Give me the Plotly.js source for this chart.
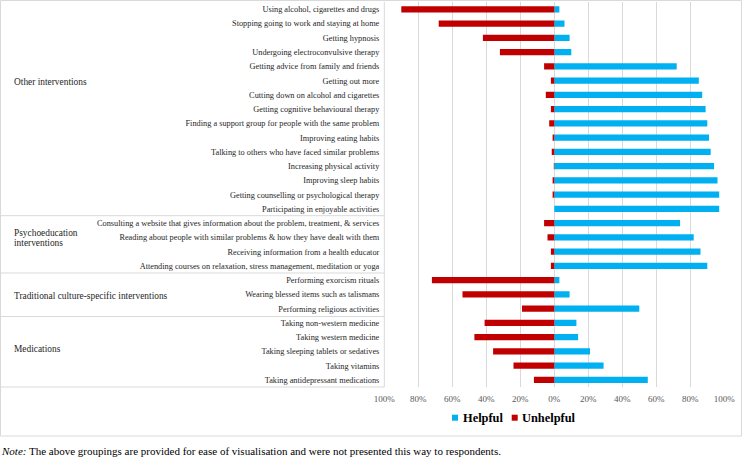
<!DOCTYPE html>
<html>
<head>
<meta charset="utf-8">
<script src="https://cdn.plot.ly/plotly-3.0.1.min.js"></script>
<style>
  html, body { margin: 0; padding: 0; background: #ffffff; }
  #chart { width: 742px; height: 459px; }
</style>
</head>
<body>
<div id="chart"></div>
<script>
// Interventions, listed top to bottom
const interventions = [
  "Using alcohol, cigarettes and drugs",
  "Stopping going to work and staying at home",
  "Getting hypnosis",
  "Undergoing electroconvulsive therapy",
  "Getting advice from family and friends",
  "Getting out more",
  "Cutting down on alcohol and cigarettes",
  "Getting cognitive behavioural therapy",
  "Finding a support group for people with the same problem",
  "Improving eating habits",
  "Talking to others who have faced similar problems",
  "Increasing physical activity",
  "Improving sleep habits",
  "Getting counselling or psychological therapy",
  "Participating in enjoyable activities",
  "Consulting a website that gives information about the problem, treatment, & services",
  "Reading about people with similar problems & how they have dealt with them",
  "Receiving information from a health educator",
  "Attending courses on relaxation, stress management, meditation or yoga",
  "Performing exorcism rituals",
  "Wearing blessed items such as talismans",
  "Performing religious activities",
  "Taking non-western medicine",
  "Taking western medicine",
  "Taking sleeping tablets or sedatives",
  "Taking vitamins",
  "Taking antidepressant medications"
];

// Share of respondents rating each intervention helpful (%)
const helpful = [3, 6, 9, 10, 72, 85, 87, 89, 90, 91, 92, 94, 96, 97, 97,
                 74, 82, 86, 90, 3, 9, 50, 13, 14, 21, 29, 55];

// Share of respondents rating each intervention unhelpful (%)
const unhelpful = [90, 68, 42, 32, 6, 2, 5, 2, 3, 1, 1.5, 0.3, 1, 1, 0,
                   6, 4, 2, 2, 72, 54, 19, 41, 47, 36, 24, 12];

// Group headings for the label column (one entry per line)
const groupNames = [
  ["Other interventions"],
  ["Psychoeducation", "interventions"],
  ["Traditional culture-specific interventions"],
  ["Medications"]
];

// Symmetric percentage axis
const tickValues = [-1, -0.8, -0.6, -0.4, -0.2, 0, 0.2, 0.4, 0.6, 0.8, 1];
const tickLabels = ["100%", "80%", "60%", "40%", "20%", "0%", "20%", "40%", "60%", "80%", "100%"];

const seriesNames = ["Helpful", "Unhelpful"];
const seriesColors = ["#00b0f0", "#c00000"];

const W = 742, H = 459;
const px = p => p / W;          // horizontal pixel -> paper
const py = p => 1 - p / H;      // vertical pixel -> paper

const serif = "'Liberation Serif', 'Times New Roman', serif";
const lineColor = "#d9d9d9";

const traces = [
  {
    type: "bar",
    orientation: "h",
    name: seriesNames[0],
    y: interventions,
    x: helpful.map(v => v / 100),
    marker: { color: seriesColors[0] },
    hoverinfo: "y+name"
  },
  {
    type: "bar",
    orientation: "h",
    name: seriesNames[1],
    y: interventions,
    x: unhelpful.map(v => -v / 100),
    marker: { color: seriesColors[1] },
    hoverinfo: "y+name"
  }
];

// Label table: outer frame, column divider and group separators
const shapes = [
  { type: "rect", xref: "paper", yref: "paper",
    x0: px(0.5), x1: px(741.5), y0: py(436), y1: py(0.5),
    line: { color: lineColor, width: 1 } },
  { type: "line", xref: "paper", yref: "paper",
    x0: px(384.3), x1: px(384.3), y0: py(387), y1: py(2),
    line: { color: lineColor, width: 1 } }
];
[215.7, 273, 316.5, 387].forEach(yy => {
  shapes.push({ type: "line", xref: "paper", yref: "paper",
    x0: px(0.5), x1: px(384.3), y0: py(yy), y1: py(yy),
    line: { color: lineColor, width: 1 } });
});

// Vertical centre of each heading and spacing between its lines
const groupY = [82, 238, 295.7, 349.3];
const headingLineGap = 9.6;
const annotations = [];
groupNames.forEach((lines, i) => {
  lines.forEach((t, j) => {
    const yy = groupY[i] + (j - (lines.length - 1) / 2) * headingLineGap;
    annotations.push({
      xref: "paper", yref: "paper",
      x: px(11.5), y: py(yy),
      xanchor: "left", yanchor: "middle", align: "left",
      text: t, showarrow: false,
      font: { family: serif, size: 9.4, color: "#262626" }
    });
  });
});

// Key below the axis: small colour squares with bold names
const keySquareX = [452, 511.7];
const keyTextX = [460.5, 520];
const keyY = 417.7;
seriesNames.forEach((n, i) => {
  shapes.push({ type: "rect", xref: "paper", yref: "paper",
    x0: px(keySquareX[i]), x1: px(keySquareX[i] + 6),
    y0: py(keyY + 3), y1: py(keyY - 3),
    fillcolor: seriesColors[i], line: { width: 0 } });
  annotations.push({
    xref: "paper", yref: "paper",
    x: px(keyTextX[i]), y: py(keyY),
    xanchor: "left", yanchor: "middle",
    text: n, showarrow: false,
    font: { family: serif, size: 12.4, color: "#000000", weight: "bold" }
  });
});

annotations.push({
  xref: "paper", yref: "paper",
  x: px(-1), y: py(450.5),
  xanchor: "left", yanchor: "middle", align: "left",
  text: "<i>Note:</i> The above groupings are provided for ease of visualisation and were not presented this way to respondents.",
  showarrow: false,
  font: { family: serif, size: 11, color: "#000000" }
});

const layout = {
  width: W,
  height: H,
  margin: { l: 0, r: 0, t: 0, b: 0 },
  paper_bgcolor: "#ffffff",
  plot_bgcolor: "#ffffff",
  barmode: "relative",
  bargap: 0.56,
  showlegend: false,
  xaxis: {
    domain: [px(384.3), px(724.3)],
    range: [-1, 1],
    tickvals: tickValues,
    ticktext: tickLabels,
    showgrid: true,
    gridcolor: lineColor,
    gridwidth: 1,
    zeroline: false,
    showline: false,
    ticks: "",
    ticklabelstandoff: 5,
    tickfont: { family: serif, size: 9, color: "#595959" },
    fixedrange: true
  },
  yaxis: {
    domain: [py(387.1), py(2.2)],
    type: "category",
    autorange: "reversed",
    showgrid: false,
    zeroline: false,
    showline: false,
    ticks: "",
    ticklabelstandoff: 4,
    tickfont: { family: serif, size: 8.3, color: "#262626" },
    fixedrange: true
  },
  shapes: shapes,
  annotations: annotations
};

Plotly.newPlot("chart", traces, layout, { displayModeBar: false, staticPlot: true });
</script>
</body>
</html>
